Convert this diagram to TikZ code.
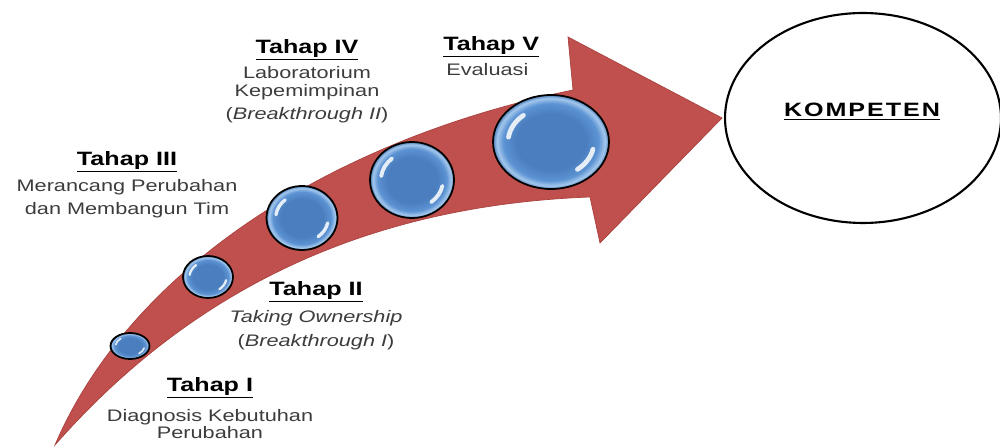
\documentclass[tikz,border=0pt]{standalone}
\usepackage{fontspec}
\setmainfont{Liberation Sans}
\newfontfamily\wfont[FakeStretch=1.3]{Liberation Sans}
\newfontfamily\kfont[FakeStretch=1.3,LetterSpace=10]{Liberation Sans}
\usetikzlibrary{shapes.geometric}
\definecolor{arrowred}{HTML}{C0504D}
\definecolor{arrowedge}{HTML}{A9423F}
\definecolor{descgray}{HTML}{3C3C3C}
\definecolor{bubA}{HTML}{4A7EBF}
\definecolor{bubB}{HTML}{5C93D3}
\definecolor{bubC}{HTML}{A3C7EC}
\definecolor{bubD}{HTML}{4F80BC}
\pgfdeclareradialshading{bubble}{\pgfpoint{0bp}{0bp}}{color(0bp)=(bubA); color(15bp)=(bubA); color(20.5bp)=(bubB); color(23.3bp)=(bubC); color(25bp)=(bubD); color(50bp)=(bubD)}
\newcommand{\hilite}[4]{%
  \begin{scope}[shift={(#1.center)}, x=#2cm, y=#3cm]
    \draw[white, opacity=0.85, line width=#4pt, line cap=round] (130:0.74) arc (130:172:0.74);
    \draw[white, opacity=0.85, line width=#4pt, line cap=round] (-12:0.74) arc (-12:-52:0.74);
  \end{scope}}
\begin{document}
\begin{tikzpicture}[x=0.02cm, y=-0.02cm,
  titlestyle/.style={font=\wfont\bfseries\fontsize{11}{13}\selectfont, text=black, inner sep=0pt},
  descstyle/.style={font=\wfont\fontsize{9.5}{10}\selectfont, text=descgray, align=center, inner sep=0pt},
  bub/.style={ellipse, draw=black, line width=1pt, shading=bubble, inner sep=0pt},
  goalstyle/.style={ellipse, draw=black, line width=1.2pt, fill=white, inner sep=0pt}
]
\useasboundingbox (0,0) rectangle (1000,448);

% curved arrow
\fill[arrowred, draw=arrowedge, line width=0.4pt, line join=miter]
  (55,445) .. controls (130,270) and (330,140) .. (573,90)
  -- (568,37) -- (722,118) -- (600,243) -- (590,197)
  .. controls (380,205) and (200,280) .. (55,445) -- cycle;

% bubbles
\node[bub, minimum width=0.78cm, minimum height=0.52cm] (b1) at (130,346) {};
\node[bub, minimum width=1.0cm, minimum height=0.84cm] (b2) at (208,277) {};
\node[bub, minimum width=1.42cm, minimum height=1.28cm] (b3) at (302,218) {};
\node[bub, minimum width=1.68cm, minimum height=1.52cm] (b4) at (412,180) {};
\node[bub, minimum width=2.32cm, minimum height=1.88cm] (b5) at (551,142) {};
\hilite{b1}{0.39}{0.26}{0.9}
\hilite{b2}{0.5}{0.42}{1.3}
\hilite{b3}{0.71}{0.64}{1.9}
\hilite{b4}{0.84}{0.76}{2.2}
\hilite{b5}{1.16}{0.94}{2.7}

% goal
\node[goalstyle, minimum width=5.52cm, minimum height=4.2cm] (komp) at (863,118) {};
\node[font=\kfont\bfseries\fontsize{11}{13}\selectfont, inner sep=0pt] (kt) at (862,112) {\underline{KOMPETEN}};

% labels
\node[titlestyle] (t1) at (210,388) {\underline{Tahap I}};
\node[descstyle] (d1) at (210,424) {Diagnosis Kebutuhan\\Perubahan};

\node[titlestyle] (t2) at (316,292) {\underline{Tahap II}};
\node[descstyle] (d2) at (316,330) {\textit{Taking Ownership}\\[4pt](\textit{Breakthrough I})};

\node[titlestyle] (t3) at (127,162) {\underline{Tahap III}};
\node[descstyle] (d3) at (127,199) {Merancang Perubahan\\[3.2pt]dan Membangun Tim};

\node[titlestyle] (t4) at (307,50) {\underline{Tahap IV}};
\node[descstyle] (d4) at (307,95) {Laboratorium\\Kepemimpinan\\[3.2pt](\textit{Breakthrough II})};

\node[titlestyle, anchor=west] (t5) at (443,47) {\underline{Tahap V}};
\node[descstyle, anchor=west] (d5) at (446,70) {Evaluasi};
\end{tikzpicture}
\end{document}
